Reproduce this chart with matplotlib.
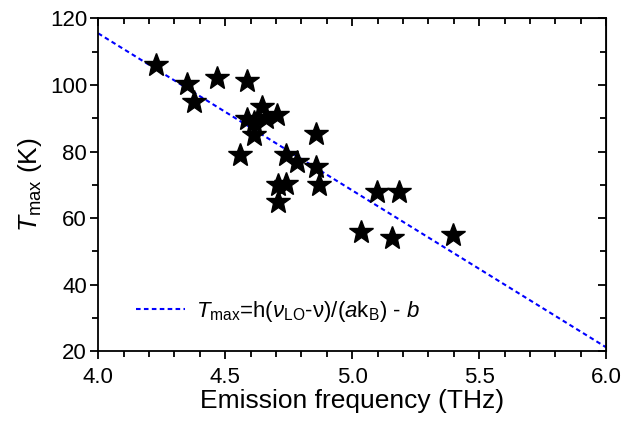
import matplotlib
matplotlib.use('Agg')
import matplotlib.pyplot as plt
from matplotlib.ticker import MultipleLocator

plt.rcParams['font.family'] = ['Liberation Sans', 'DejaVu Sans']
plt.rcParams['mathtext.fontset'] = 'custom'
plt.rcParams['mathtext.rm'] = 'Liberation Sans'
plt.rcParams['mathtext.it'] = 'Liberation Sans:italic'

# measured points (emission frequency in THz, Tmax in K)
freq = [4.227, 4.349, 4.379, 4.467, 4.588, 4.585, 4.614, 4.647, 4.660, 4.706,
        4.615, 4.559, 4.739, 4.782, 4.857, 4.857, 4.870, 4.707, 4.740, 4.707,
        5.097, 5.186, 5.399, 5.035, 5.156]
tmax = [106.0, 100.2, 95.0, 102.0, 101.2, 89.7, 89.0, 93.3, 90.0, 91.0,
        85.0, 79.0, 79.0, 76.8, 85.2, 75.4, 70.0, 70.0, 70.2, 64.9,
        67.9, 67.9, 54.9, 55.9, 53.9]

# fitted line end points
fit_x = [4.0, 6.0]
fit_y = [115.5, 21.2]

fig = plt.figure(figsize=(6.21, 4.23), dpi=100)
ax = fig.add_axes([0.158, 0.1695, 0.818, 0.7872])

ax.plot(fit_x, fit_y, linestyle=(0, (2.2, 1.6)), color='#0000ff', lw=1.5,
        label=r'$T_{\rm max}$=h($\nu_{\rm LO}$-ν)/($a$k$_{\rm B}$) - $b$')
ax.plot(freq, tmax, linestyle='none', marker='*', markersize=18, color='black')

ax.set_xlim(4.0, 6.0)
ax.set_ylim(20, 120)
ax.xaxis.set_major_locator(MultipleLocator(0.5))
ax.xaxis.set_minor_locator(MultipleLocator(0.1))
ax.yaxis.set_major_locator(MultipleLocator(20))
ax.yaxis.set_minor_locator(MultipleLocator(10))
ax.xaxis.set_major_formatter(matplotlib.ticker.FormatStrFormatter('%.1f'))

for s in ax.spines.values():
    s.set_linewidth(1.3)
ax.tick_params(which='both', labelsize=16, width=1.3, direction='out',
               top=False, right=False)
ax.tick_params(which='major', length=6, pad=2)
ax.tick_params(axis='x', which='major', pad=5)
ax.tick_params(which='minor', length=4)

# inward ticks on top and right
sec = ax.secondary_xaxis('top')
sec.xaxis.set_major_locator(MultipleLocator(0.5))
sec.xaxis.set_minor_locator(MultipleLocator(0.1))
sec.tick_params(which='both', direction='in', width=1.3, labeltop=False)
sec.tick_params(which='major', length=6)
sec.tick_params(which='minor', length=4)
secy = ax.secondary_yaxis('right')
secy.yaxis.set_major_locator(MultipleLocator(20))
secy.yaxis.set_minor_locator(MultipleLocator(10))
secy.tick_params(which='both', direction='in', width=1.3, labelright=False)
secy.tick_params(which='major', length=6)
secy.tick_params(which='minor', length=4)

ax.set_xlabel('Emission frequency (THz)', fontsize=19, labelpad=1)
ax.set_ylabel(r'$T_{\rm max}$ (K)', fontsize=19, labelpad=4)

ax.legend(loc='center left', bbox_to_anchor=(0.075, 0.12), frameon=False,
          fontsize=16, handlelength=2.2, handletextpad=0.5, borderpad=0,
          borderaxespad=0)

fig.savefig('out.png', dpi=100)
